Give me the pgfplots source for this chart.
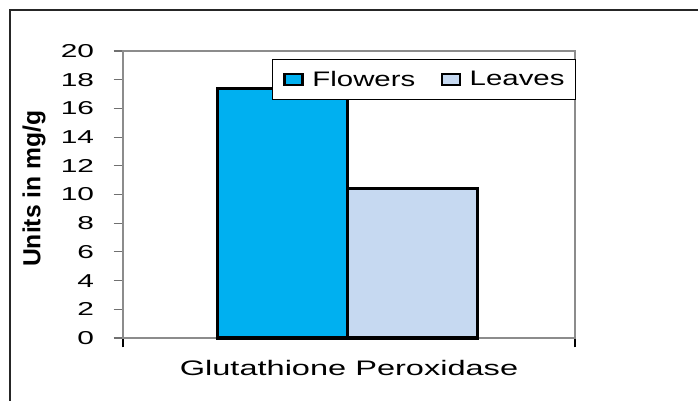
\documentclass[border=0pt]{standalone}
\usepackage{fontspec}
\setmainfont{Liberation Sans}
\usepackage{pgfplots}
\pgfplotsset{compat=1.18}
\definecolor{flow}{HTML}{00B0F0}
\definecolor{leav}{HTML}{C6D9F1}
\definecolor{axgray}{HTML}{8C8C8C}
\begin{document}
\begin{tikzpicture}
\useasboundingbox (0pt,0pt) rectangle (523.5pt,300pt);
\draw[line width=1.2pt, black!85] (7.5pt,-20pt) -- (7.5pt,292.5pt) -- (540pt,292.5pt);
\begin{axis}[
  at={(92.25pt,46.5pt)}, anchor=south west,
  scale only axis, width=339pt, height=215.25pt,
  /pgf/number format/assume math mode=true,
  clip=false,
  ybar, bar width=1, bar shift=0pt,
  xmin=-1.227, xmax=2.25,
  ymin=0, ymax=20,
  ytick={0,2,...,20},
  xtick={-1.227,2.25}, xticklabels={},
  tick pos=left,
  tick align=outside,
  major tick length=7pt,
  every x tick/.style={black, line width=0.8pt},
  every y tick/.style={axgray!80!black, line width=0.8pt},
  yticklabel style={anchor=east, inner sep=0pt, xshift=-14.5pt},
  yticklabel={\fontsize{14}{16}\selectfont\scalebox{1.6}[1]{\pgfmathprintnumber{\tick}}},
  axis line style={draw=axgray, line width=1.5pt},
  xlabel={\fontsize{15.75}{18}\selectfont\scalebox{1.55}[1]{Glutathione Peroxidase}},
  xlabel style={at={(axis description cs:0.5,0)}, anchor=base, yshift=-27.75pt, inner sep=0pt},
  ylabel={\fontsize{18.5}{20}\selectfont\bfseries Units in mg/g},
  ylabel style={at={(axis description cs:-0.197,0.52)}, anchor=center, inner sep=0pt},
  legend columns=2,
  legend style={at={(axis description cs:0.33,0.972)}, anchor=north west, draw=black, line width=0.8pt,
    inner xsep=8pt, inner ysep=8.5pt,
    nodes={inner sep=0pt},
    /tikz/every odd column/.append style={column sep=6.5pt},
    /tikz/every even column/.append style={column sep=19pt}},
  legend image code/.code={\draw[#1, line width=1.8pt, draw=black] (0pt,-4.1pt) rectangle (13.5pt,4.1pt);},
]
\addplot[fill=flow, draw=black, line width=2.4pt] coordinates {(0,17.4)};
\addlegendentry{\fontsize{15.75}{18}\selectfont\scalebox{1.4}[1]{Flowers}}
\addplot[fill=leav, draw=black, line width=2.4pt] coordinates {(1,10.4)};
\addlegendentry{\fontsize{15.75}{18}\selectfont\scalebox{1.4}[1]{Leaves}}
\end{axis}
\end{tikzpicture}
\end{document}
